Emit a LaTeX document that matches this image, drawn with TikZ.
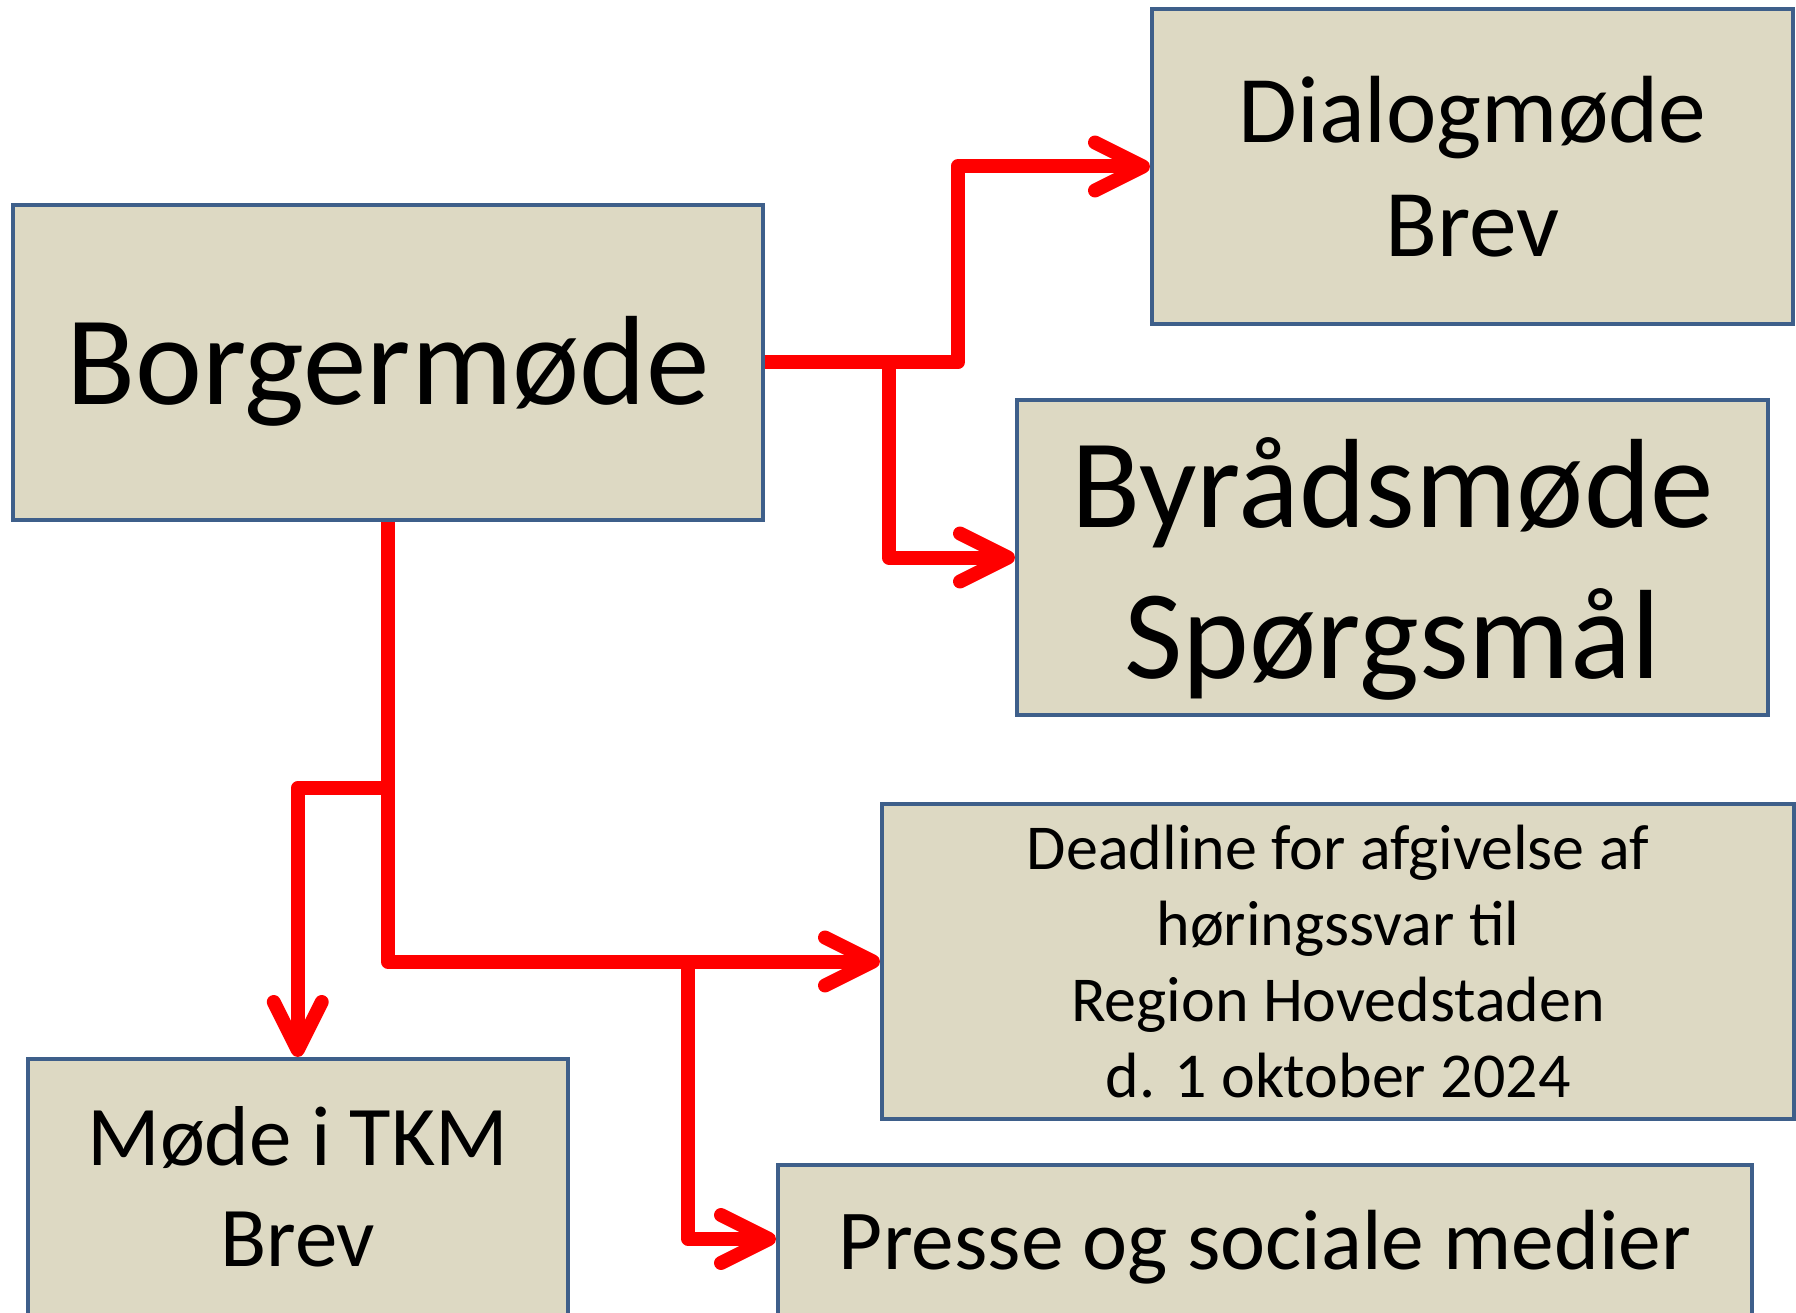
\documentclass[tikz,border=0pt]{standalone}
\usepackage{fontspec}
\setmainfont{Carlito}
\usetikzlibrary{arrows.meta}
\definecolor{boxfill}{RGB}{221,217,195}
\definecolor{boxline}{RGB}{62,95,138}
\definecolor{arrred}{RGB}{255,0,0}
\tikzset{
  box/.style={draw=boxline, fill=boxfill, line width=4pt, inner sep=0pt, align=center, text=black},
  txt/.style={inner sep=0pt, align=center, text=black},
  conn/.style={draw=arrred, line width=14pt, line join=round, line cap=butt,
    -{Straight Barb[round, length=48pt, width=48pt]}},
}
\begin{document}
\begin{tikzpicture}[x=1pt,y=-1pt]
\useasboundingbox (0,0) rectangle (1796,1313);
\fill[white] (0,0) rectangle (1796,1313);
\node[box, minimum width=750pt, minimum height=315pt] (borger) at (387.7,362.5) {};
\node[txt, font={\fontsize{127}{151}\selectfont}] (borgerText) at ([yshift=-9pt]borger.center)
  {Borgerm\o de};
\node[box, minimum width=641pt, minimum height=315pt, font={\fontsize{95.5}{114.5}\selectfont}] (dialog) at (1472.5,166.5)
  {Dialogm\o de\\ Brev};
\node[box, minimum width=751pt, minimum height=315pt] (byrad) at (1392.5,557.5) {};
\node[txt, font={\fontsize{127}{151}\selectfont}] (byradText) at ([yshift=-11.5pt]byrad.center)
  {Byr\aa dsm\o de\\ Sp\o rgsm\aa l};
\node[box, minimum width=912pt, minimum height=315pt, font={\fontsize{64}{76}\selectfont}] (deadline) at (1338,961.5)
  {Deadline for afgivelse af\\ h\o ringssvar til\\ Region Hovedstaden\\ d. 1 oktober 2024};
\node[box, minimum width=974pt, minimum height=164pt, font={\fontsize{85.4}{100}\selectfont}] (presse) at (1265,1247)
  {Presse og sociale medier};
\node[box, minimum width=540.5pt, minimum height=256pt, font={\fontsize{85}{101}\selectfont}] (tkm) at (297.75,1187)
  {M\o de i TKM\\ Brev};
\coordinate (jA) at (957.6,166.5);
\coordinate (jB) at (888.8,557.5);
\coordinate (jC) at (387.7,788);
\coordinate (jD) at (688.4,961.5);
\draw[conn] (borger.east) -| (jA) -- (dialog.west);
\draw[conn] (borger.east) -| (jB) -- (byrad.west);
\draw[conn] (borger.south) |- (deadline.west);
\draw[conn] (jC) -| (tkm.north);
\draw[conn] (jD) |- ([yshift=8pt]presse.west);
\end{tikzpicture}
\end{document}
